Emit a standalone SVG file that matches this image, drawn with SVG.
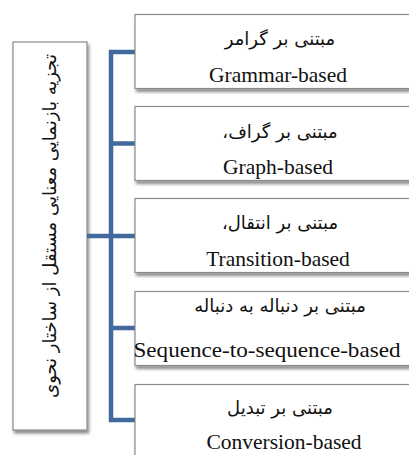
<svg xmlns="http://www.w3.org/2000/svg" width="409" height="455" viewBox="0 0 409 455">
<defs>
<filter id="sh" x="-10%" y="-10%" width="130%" height="130%">
<feDropShadow dx="1.5" dy="3" stdDeviation="1.5" flood-color="#000" flood-opacity="0.45"/>
</filter>
</defs>
<style>
.box{fill:#fff;stroke:#8a8a8a;stroke-width:1.2;filter:url(#sh)}
.fa{font-family:"DejaVu Sans",serif;font-size:18px;fill:#111;text-anchor:middle}
.en{font-family:"Liberation Serif",serif;font-size:21.5px;fill:#111;text-anchor:middle}
.side{font-family:"DejaVu Sans",sans-serif;font-size:18px;fill:#111;text-anchor:middle}
.conn{fill:none;stroke:#426a9c;stroke-width:4.5}
</style>
<rect width="409" height="455" fill="#fff"/>
<g id="root">
<rect class="box" x="13" y="42" width="74" height="388"/>
<text class="side" transform="translate(56,226) rotate(-90)">تجزیه بازنمایی معنایی مستقل از ساختار نحوی</text>
</g>
<g id="connectors">
<path class="conn" d="M87,236 H111"/>
<path class="conn" d="M135,52 H111 V420 H135"/>
<path class="conn" d="M111,143.5 H135 M111,236 H135 M111,328 H135"/>
</g>
<g id="n1">
<rect class="box" x="135" y="14.5" width="290" height="74"/>
<text class="fa" x="280" y="45">مبتنی بر گرامر</text>
<text class="en" x="278" y="82">Grammar-based</text>
</g>
<g id="n2">
<rect class="box" x="135" y="106.5" width="290" height="74"/>
<text class="fa" x="280" y="138">مبتنی بر گراف،&#x200F;</text>
<text class="en" x="278" y="174">Graph-based</text>
</g>
<g id="n3">
<rect class="box" x="135" y="198.5" width="290" height="74"/>
<text class="fa" x="280" y="229">مبتنی بر انتقال،&#x200F;</text>
<text class="en" x="278" y="266">Transition-based</text>
</g>
<g id="n4">
<rect class="box" x="135" y="291.5" width="290" height="74"/>
<text class="fa" x="280" y="312">مبتنی بر دنباله به دنباله</text>
<text class="en" x="267" y="357" textLength="267" lengthAdjust="spacingAndGlyphs">Sequence-to-sequence-based</text>
</g>
<g id="n5">
<rect class="box" x="135" y="384.5" width="290" height="74"/>
<text class="fa" x="280" y="414">مبتنی بر تبدیل</text>
<text class="en" x="284" y="449">Conversion-based</text>
</g>
</svg>
